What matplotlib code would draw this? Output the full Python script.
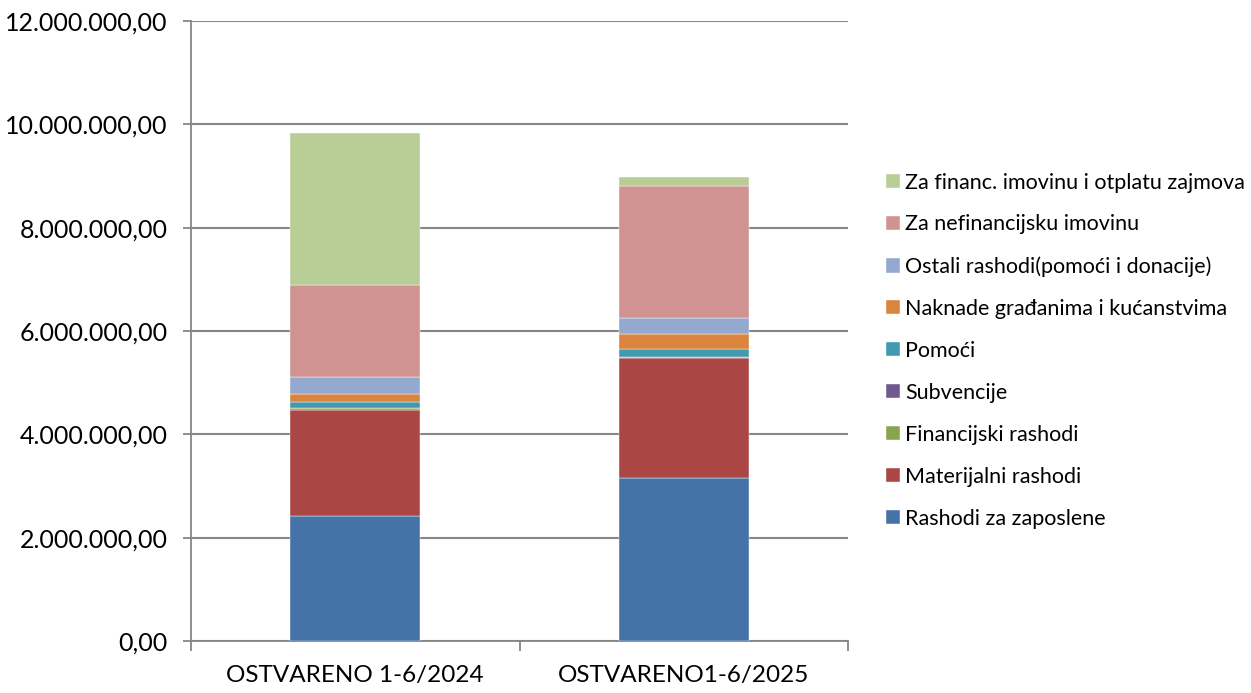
import matplotlib.pyplot as plt
from matplotlib.ticker import FuncFormatter

plt.rcParams['font.family'] = ['Lato', 'DejaVu Sans']

categories = ["OSTVARENO 1-6/2024", "OSTVARENO1-6/2025"]
series_names = [
    "Rashodi za zaposlene",
    "Materijalni rashodi",
    "Financijski rashodi",
    "Subvencije",
    "Pomoći",
    "Naknade građanima i kućanstvima",
    "Ostali rashodi(pomoći i donacije)",
    "Za nefinancijsku imovinu",
    "Za financ. imovinu i otplatu zajmova",
]
rashodi_zaposlene = [2413000, 3150000]
materijalni = [2064000, 2320000]
financijski = [39000, 26000]
subvencije = [0, 0]
pomoci = [104000, 155000]
naknade = [167000, 285000]
ostali = [316000, 315000]
nefinancijska = [1793000, 2561000]
financ_imovina = [2934000, 175000]

values = [rashodi_zaposlene, materijalni, financijski, subvencije, pomoci,
          naknade, ostali, nefinancijska, financ_imovina]
colors = ["#4572A7", "#AA4643", "#89A54E", "#71588F", "#4198AF",
          "#DB843D", "#93A9CF", "#D19392", "#B9CD96"]

fig = plt.figure(figsize=(12.51, 6.93), dpi=100)
ax = fig.add_axes([0.1527, 0.075, 0.5252, 0.8947])

x = range(len(categories))
bottom = [0, 0]
handles = []
for name, vals, col in zip(series_names, values, colors):
    b = ax.bar(x, vals, width=0.396, bottom=bottom, color=col, label=name,
               edgecolor="white", linewidth=0.3, zorder=3)
    handles.append(b)
    bottom = [bb + v for bb, v in zip(bottom, vals)]

ax.set_xlim(-0.5, 1.5)
ax.set_ylim(0, 12000000)
ax.set_yticks(range(0, 12000001, 2000000))
ax.yaxis.set_major_formatter(FuncFormatter(
    lambda v, p: f"{v:,.2f}".replace(",", "X").replace(".", ",").replace("X", ".")))
ax.set_xticks(list(x))
ax.set_xticklabels(categories)
ax.set_xticks([-0.5, 0.5, 1.5], minor=True)
ax.tick_params(axis='x', which='major', length=0, pad=17, labelsize=17.5)
ax.tick_params(axis='x', which='minor', length=7, color="#868686", width=1.3)
ax.tick_params(axis='y', length=6, color="#868686", width=1.3, labelsize=18, pad=11)

ax.grid(axis='y', color="#868686", linewidth=1.5, zorder=0)
for s in ["top", "right"]:
    ax.spines[s].set_visible(False)
ax.spines["left"].set_color("#868686")
ax.spines["left"].set_linewidth(1.3)
ax.spines["bottom"].set_color("#868686")
ax.spines["bottom"].set_linewidth(1.3)

fig.legend(handles[::-1], series_names[::-1], loc="center left",
           bbox_to_anchor=(0.693, 0.494), frameon=False, fontsize=15.5,
           handlelength=0.63, handleheight=0.63, handletextpad=0.25,
           labelspacing=1.02)

fig.savefig("out.png", dpi=100)
